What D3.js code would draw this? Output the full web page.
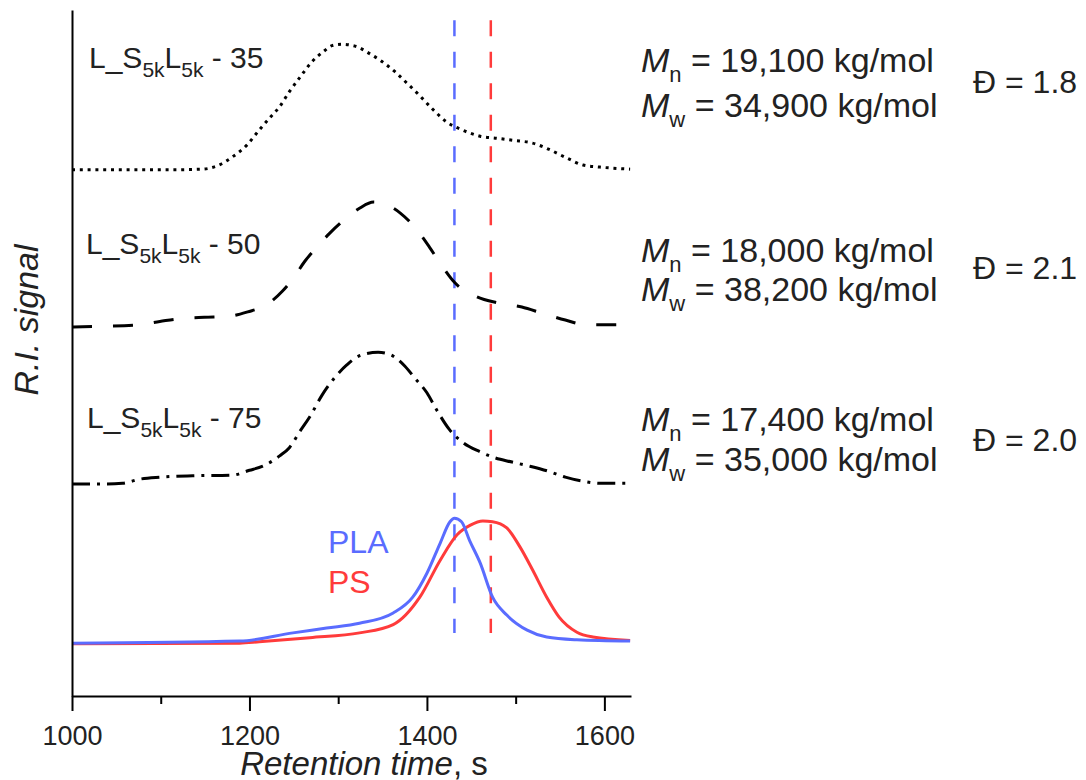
<!DOCTYPE html>
<html>
<head>
<meta charset="utf-8">
<script src="https://cdn.jsdelivr.net/npm/d3@7"></script>
<style>
  html, body { margin: 0; padding: 0; background: #fff; }
  svg { display: block; font-family: Arial, "Liberation Sans", sans-serif; }
</style>
</head>
<body>
<svg id="chart" width="1086" height="780"></svg>
<script>
// GPC traces: retention time (s) and stacked R.I. signal (a.u.)
const time35 = [1000,1054,1110,1147,1164,1181,1197,1211,1223,1234,1245,1257,1270,1283,1293,1304,1313,1324,1332,1347,1364,1377,1392,1406,1422,1440,1460,1479,1497,1519,1539,1558,1576,1595,1629];
const signal35 = [76.7,76.7,76.7,76.8,77.3,78.6,80.3,82.5,84.3,85.9,88.1,90.2,92.4,93.9,94.8,95.0,94.9,94.5,93.9,92.7,91.0,89.4,87.5,85.6,83.7,82.5,81.6,81.3,81.0,80.6,79.6,78.4,77.4,77.1,76.8];

const time50 = [1000,1031,1073,1099,1121,1149,1174,1198,1219,1237,1250,1262,1275,1290,1304,1324,1340,1358,1370,1389,1403,1418,1431,1456,1480,1507,1530,1556,1580,1629];
const signal50 = [53.8,53.9,54.1,54.6,55.0,55.2,55.3,56.0,57.0,59.0,61.0,63.3,65.3,67.4,69.1,71.1,72.0,71.4,70.4,67.9,65.4,62.5,60.3,58.2,57.3,56.7,55.8,54.8,54.1,54.1];

const time75 = [1000,1039,1057,1076,1099,1136,1181,1200,1215,1234,1245,1257,1268,1282,1296,1310,1324,1345,1358,1375,1386,1400,1411,1425,1441,1460,1477,1496,1516,1536,1556,1576,1595,1629];
const signal75 = [30.9,30.9,31.0,31.6,31.9,32.1,32.2,32.9,33.5,35.0,36.2,38.6,40.7,43.9,46.4,48.3,49.6,50.1,49.8,48.1,46.4,44.2,41.7,38.9,36.9,35.6,34.7,34.1,33.5,32.8,31.9,31.3,31.0,31.0];

const timePLA = [1000,1189,1249,1287,1324,1362,1384,1400,1415,1426,1431,1439,1448,1460,1474,1490,1513,1535,1569,1629];
const signalPLA = [7.7,8.0,9.2,9.9,10.6,12.1,14.4,17.9,22.3,25.4,25.9,25.4,22.7,19.4,14.4,11.8,9.6,8.6,8.2,8.0];

const timePS = [1000,1189,1211,1268,1324,1362,1392,1415,1434,1449,1463,1474,1490,1505,1519,1535,1549,1569,1587,1629];
const signalPS = [7.6,7.7,7.9,8.5,9.2,10.4,14.4,19.8,23.5,24.9,25.5,25.4,24.5,21.7,18.4,14.4,11.5,9.3,8.6,8.1];

// Peak retention times of the reference homopolymers
const peakPLA = 1431;
const peakPS = 1472;

// Axis ticks
const majorTicks = [1000, 1200, 1400, 1600];
const minorTicks = [1100, 1300, 1500];

// Sample labels and molar-mass results
const sampleSuffix = ["35", "50", "75"];
const mnValues = ["19,100", "18,000", "17,400"];
const mwValues = ["34,900", "38,200", "35,000"];
const dispersity = ["1.8", "2.1", "2.0"];

const svg = d3.select("#chart");
const blue = "#5a6cff";
const red = "#ff3b3b";
const ink = "#222";

const x = d3.scaleLinear().domain([1000, 1630]).range([72, 631]);
const y = d3.scaleLinear().domain([0, 100]).range([696, 10]);

const line = d3.line()
  .x(d => x(d[0]))
  .y(d => y(d[1]))
  .curve(d3.curveMonotoneX);

const zip = (a, b) => a.map((v, i) => [v, b[i]]);

// Vertical markers at the PLA and PS peak positions
[[peakPLA, blue], [peakPS, red]].forEach(([t, c]) => {
  svg.append("line")
    .attr("x1", x(t)).attr("x2", x(t))
    .attr("y1", y(98.5)).attr("y2", y(9.2))
    .attr("stroke", c)
    .attr("stroke-width", 2.5)
    .attr("stroke-dasharray", "16 15.5");
});

// Copolymer traces
const traces = [
  { data: zip(time35, signal35), dash: "3 4.8" },
  { data: zip(time50, signal50), dash: "20 21" },
  { data: zip(time75, signal75), dash: "18 7 3 7" }
];
traces.forEach(tr => {
  svg.append("path")
    .attr("d", line(tr.data))
    .attr("fill", "none")
    .attr("stroke", "#000")
    .attr("stroke-width", 3)
    .attr("stroke-dasharray", tr.dash);
});

// Homopolymer references
svg.append("path")
  .attr("d", line(zip(timePS, signalPS)))
  .attr("fill", "none").attr("stroke", red).attr("stroke-width", 3);
svg.append("path")
  .attr("d", line(zip(timePLA, signalPLA)))
  .attr("fill", "none").attr("stroke", blue).attr("stroke-width", 3);

// Axes
const xAxis = svg.append("g")
  .attr("transform", "translate(0,696)")
  .call(d3.axisBottom(x).tickValues(majorTicks).tickSize(15).tickSizeOuter(0).tickPadding(15).tickFormat(d3.format("d")));
xAxis.selectAll("text").attr("font-size", 27).attr("fill", ink).attr("font-family", "Arial, 'Liberation Sans', sans-serif");
xAxis.select(".domain").attr("stroke-width", 2);
xAxis.selectAll(".tick line").attr("stroke-width", 2);

const xMinor = svg.append("g")
  .attr("transform", "translate(0,696)")
  .call(d3.axisBottom(x).tickValues(minorTicks).tickSize(8).tickSizeOuter(0).tickFormat(""));
xMinor.select(".domain").remove();
xMinor.selectAll(".tick line").attr("stroke-width", 2);

const yAxis = svg.append("g")
  .attr("transform", "translate(72,0)")
  .call(d3.axisLeft(y).tickValues([]).tickSizeOuter(0));
yAxis.select(".domain").attr("stroke-width", 2);

// Axis titles
const xt = svg.append("text")
  .attr("x", 364).attr("y", 775)
  .attr("text-anchor", "middle")
  .attr("font-size", 33).attr("fill", ink);
xt.append("tspan").attr("font-style", "italic").text("Retention time");
xt.append("tspan").text(", s");

svg.append("text")
  .attr("transform", "translate(38,320) rotate(-90)")
  .attr("text-anchor", "middle")
  .attr("font-size", 34).attr("font-style", "italic").attr("fill", ink)
  .text("R.I. signal");

// Sample labels
const labelPos = [[89, 68], [86, 254], [87, 428]];
sampleSuffix.forEach((s, i) => {
  const t = svg.append("text")
    .attr("x", labelPos[i][0]).attr("y", labelPos[i][1])
    .attr("font-size", 30).attr("fill", ink);
  t.append("tspan").text("L_S");
  t.append("tspan").attr("font-size", 21).attr("dy", 9).text("5k");
  t.append("tspan").attr("dy", -9).text("L");
  t.append("tspan").attr("font-size", 21).attr("dy", 9).text("5k");
  t.append("tspan").attr("dy", -9).text(" - " + s);
});

// Molar masses and dispersity
const mnY = [72, 262, 431];
const mwY = [117, 301, 471];
const dY = [93, 279, 451];
function massLine(yPos, sub, value) {
  const t = svg.append("text")
    .attr("x", 641).attr("y", yPos)
    .attr("font-size", 34).attr("fill", ink);
  t.append("tspan").attr("font-style", "italic").text("M");
  t.append("tspan").attr("font-size", 22).attr("dy", 10).text(sub);
  t.append("tspan").attr("dy", -10).text(" = " + value + " kg/mol");
}
mnValues.forEach((v, i) => massLine(mnY[i], "n", v));
mwValues.forEach((v, i) => massLine(mwY[i], "w", v));
dispersity.forEach((v, i) => {
  svg.append("text")
    .attr("x", 973).attr("y", dY[i])
    .attr("font-size", 32).attr("fill", ink)
    .text("Đ = " + v);
});

// Homopolymer legend text
svg.append("text").attr("x", 328).attr("y", 553)
  .attr("font-size", 32).attr("fill", blue).text("PLA");
svg.append("text").attr("x", 328).attr("y", 593)
  .attr("font-size", 32).attr("fill", red).text("PS");
</script>
</body>
</html>
